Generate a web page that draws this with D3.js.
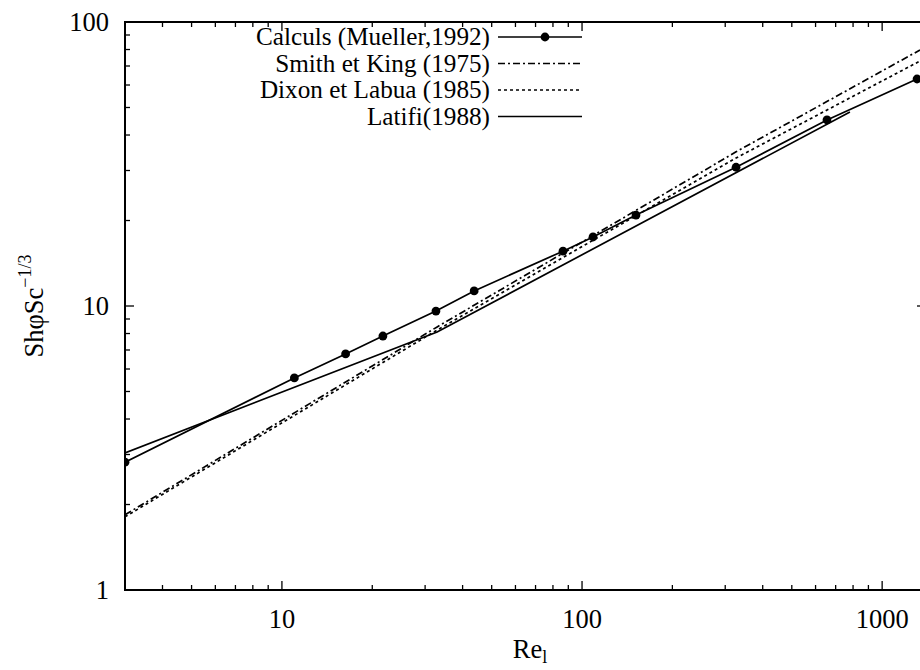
<!DOCTYPE html>
<html><head><meta charset="utf-8">
<script src="https://cdn.jsdelivr.net/npm/d3@7"></script>
<style>body{margin:0;background:#fff}svg{display:block}</style>
</head><body><svg id="c" width="920" height="670" font-family="'Liberation Serif', 'DejaVu Serif', serif"></svg>
<script>
// ---- data ----
const calculsRe = [3, 11, 16.3, 21.7, 32.6, 43.7, 86.4, 108.8, 151.3, 326, 655, 1307];
const calculsSh = [2.82, 5.58, 6.78, 7.84, 9.60, 11.3, 15.6, 17.5, 20.9, 30.8, 45.2, 63.0];
const smithRe = [3, 32.9, 326, 1337];
const smithSh = [1.84, 8.44, 34.9, 79.7];
const dixonRe = [3, 32.9, 326, 1337];
const dixonSh = [1.81, 8.23, 33.2, 72.9];
const latifiRe = [3, 32.9, 781];
const latifiSh = [3.04, 8.1, 48.2];
const legendLabels = ["Calculs (Mueller,1992)", "Smith et King (1975)", "Dixon et Labua (1985)", "Latifi(1988)"];
const xTickLabels = ["10", "100", "1000"];
const yTickLabels = ["1", "10", "100"];

const svg = d3.select("#c");
const FONT = "'Liberation Serif', 'DejaVu Serif', serif";
const FS = 26.5, LFS = 25.2;
const L = 125, R = 926, T = 22, B = 590;
const x = d3.scaleLog().domain([3, 1400]).range([L, R]);
const y = d3.scaleLog().domain([1, 100]).range([B, T]);

svg.append("clipPath").attr("id", "clip").append("rect")
  .attr("x", L).attr("y", T).attr("width", R - L).attr("height", B - T);

// frame
svg.append("rect").attr("x", L).attr("y", T).attr("width", R - L).attr("height", B - T)
  .attr("fill", "none").attr("stroke", "#000").attr("stroke-width", 2);

const isMajor = v => Math.abs(Math.log10(v) - Math.round(Math.log10(v))) < 1e-9;
const tk = svg.append("g").attr("stroke", "#000").attr("stroke-width", 1.3);
x.ticks().forEach(v => {
  const len = isMajor(v) ? 9 : 5, px = x(v);
  tk.append("line").attr("x1", px).attr("x2", px).attr("y1", B).attr("y2", B - len);
  tk.append("line").attr("x1", px).attr("x2", px).attr("y1", T).attr("y2", T + len);
});
y.ticks().forEach(v => {
  const len = isMajor(v) ? 9 : 5, py = y(v);
  tk.append("line").attr("x1", L).attr("x2", L + len).attr("y1", py).attr("y2", py);
  tk.append("line").attr("x1", R).attr("x2", R - len).attr("y1", py).attr("y2", py);
});

const txt = (sel) => sel.append("text").attr("font-family", FONT).attr("fill", "#000");

// tick labels
xTickLabels.forEach(t => {
  txt(svg).attr("x", x(+t)).attr("y", 628).attr("text-anchor", "middle")
    .attr("font-size", FS).text(t);
});
yTickLabels.forEach(t => {
  txt(svg).attr("x", 109).attr("y", y(+t) + 9).attr("text-anchor", "end")
    .attr("font-size", FS).text(t);
});

// axis titles
const xt = txt(svg).attr("x", 530).attr("y", 658).attr("text-anchor", "middle").attr("font-size", FS);
xt.append("tspan").text("Re");
xt.append("tspan").attr("font-size", 18).attr("dy", 5).text("l");
const yt = txt(svg).attr("transform", "translate(43,306) rotate(-90)")
  .attr("text-anchor", "middle").attr("font-size", FS);
yt.append("tspan").text("ShφSc");
yt.append("tspan").attr("font-size", 18).attr("dy", -12).text("−1/3");

// series
const line = d3.line().x(d => x(d[0])).y(d => y(d[1]));
const plot = svg.append("g").attr("clip-path", "url(#clip)");
const series = [
  {re: calculsRe, sh: calculsSh, dash: null},
  {re: smithRe, sh: smithSh, dash: "7,3,2,3"},
  {re: dixonRe, sh: dixonSh, dash: "3,3"},
  {re: latifiRe, sh: latifiSh, dash: null}
];
series.forEach(s => {
  plot.append("path").datum(s.re.map((r, i) => [r, s.sh[i]])).attr("d", line)
    .attr("fill", "none").attr("stroke", "#000").attr("stroke-width", 1.7)
    .attr("stroke-dasharray", s.dash);
});
plot.selectAll("circle.pt").data(calculsRe.map((r, i) => [r, calculsSh[i]])).enter()
  .append("circle").attr("cx", d => x(d[0])).attr("cy", d => y(d[1])).attr("r", 4.4).attr("fill", "#000");

// legend
const lg = svg.append("g");
legendLabels.forEach((lab, i) => {
  const by = 45 + i * 26.5;
  txt(lg).attr("x", 490).attr("y", by).attr("text-anchor", "end").attr("font-size", LFS).text(lab);
  lg.append("line").attr("x1", 498).attr("x2", 582).attr("y1", by - 8).attr("y2", by - 8)
    .attr("stroke", "#000").attr("stroke-width", 1.7).attr("stroke-dasharray", series[i].dash);
  if (i === 0) lg.append("circle").attr("cx", 545).attr("cy", by - 8).attr("r", 4.4).attr("fill", "#000");
});
</script></body></html>
